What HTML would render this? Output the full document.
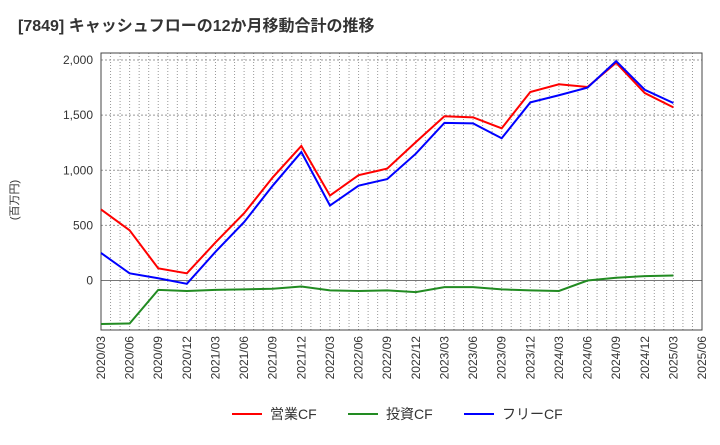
<!DOCTYPE html>
<html><head><meta charset="utf-8"><style>
body{margin:0;background:#fff;font-family:"Liberation Sans","Noto Sans CJK JP",sans-serif;}
</style></head><body>
<svg id="chart" width="720" height="440" xmlns="http://www.w3.org/2000/svg">
<text x="18" y="31" font-size="16" font-weight="bold" fill="#333">[7849]  キャッシュフローの12か月移動合計の推移</text>
<text transform="translate(18,200) rotate(-90)" font-size="11" fill="#333" text-anchor="middle">(百万円)</text>
<g id="grid"></g><g id="axes"></g><g id="series"></g>
<g>
<line x1="232" y1="414" x2="262" y2="414" stroke="#f00" stroke-width="2"/><text x="270" y="419" font-size="14" fill="#333">営業CF</text>
<line x1="348" y1="414" x2="378" y2="414" stroke="#228b22" stroke-width="2"/><text x="386" y="419" font-size="14" fill="#333">投資CF</text>
<line x1="464" y1="414" x2="494" y2="414" stroke="#00f" stroke-width="2"/><text x="502" y="419" font-size="14" fill="#333">フリーCF</text>
</g>
</svg>
<script>
const categories=["2020/03","2020/06","2020/09","2020/12","2021/03","2021/06","2021/09","2021/12","2022/03","2022/06","2022/09","2022/12","2023/03","2023/06","2023/09","2023/12","2024/03","2024/06","2024/09","2024/12","2025/03","2025/06"];
const operatingCF=[645,455,110,65,345,610,935,1220,770,955,1015,1255,1490,1480,1380,1710,1780,1755,1975,1700,1570];
const investingCF=[-395,-390,-85,-95,-85,-80,-75,-55,-90,-95,-90,-105,-60,-60,-80,-90,-95,0,25,40,45];
const freeCF=[250,65,20,-30,260,530,860,1165,680,860,920,1150,1430,1425,1290,1615,1680,1750,1990,1730,1610];
const yTicks=[0,500,1000,1500,2000];
const yTickLabels=["0","500","1,000","1,500","2,000"];
const L=101,R=702,T=53,B=330;
const NS="http://www.w3.org/2000/svg";
function x(i){return L+(R-L)*i/(categories.length-1);}
function y(v){return 280.5-(v)*(220.5/2000);}
function mk(tag,attrs,parent){const e=document.createElementNS(NS,tag);for(const k in attrs)e.setAttribute(k,attrs[k]);parent.appendChild(e);return e;}
const grid=document.getElementById('grid'),axes=document.getElementById('axes'),ser=document.getElementById('series');
for(let m=1;m<(categories.length-1)*3;m++){const xx=L+(R-L)*m/((categories.length-1)*3);
const g=mk('line',{x1:xx,x2:xx,y1:T,y2:B,stroke:'#999','stroke-width':1,'stroke-dasharray':'1,2'},grid);

}
yTicks.forEach((v,i)=>{const yy=y(v);
const g=mk('line',{x1:L,x2:R,y1:yy,y2:yy,stroke:v===0?'#777':'#999','stroke-width':1,'stroke-dasharray':v===0?'':'2,2'},grid);


const t=mk('text',{x:L-8,y:yy+4,'font-size':12,fill:'#333','text-anchor':'end'},axes);t.textContent=yTickLabels[i];

});
const fr=mk('rect',{x:L,y:T,width:R-L,height:B-T,fill:'none',stroke:'#444','stroke-width':1},axes);


categories.forEach((c,i)=>{const xx=x(i);
const t=mk('text',{transform:`translate(${xx+4},${B+6}) rotate(-90)`,'font-size':12,fill:'#333','text-anchor':'end'},axes);t.textContent=c;

});
function line(data,color,name){const p=mk('polyline',{points:data.map((v,i)=>x(i)+','+y(v)).join(' '),fill:'none',stroke:color,'stroke-width':2},ser);

}
line(investingCF,'#228b22','investing-cf-line');
line(operatingCF,'#f00','operating-cf-line');
line(freeCF,'#00f','free-cf-line');
</script>
</body></html>
